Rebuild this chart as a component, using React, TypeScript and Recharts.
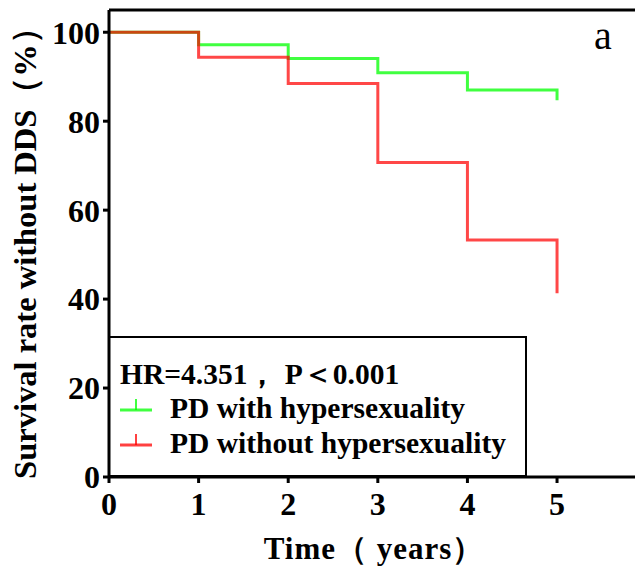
import React from "react";
import {
    LineChart, Line,
    XAxis, YAxis,
    ReferenceLine,
    Label
} from "recharts";

// Kaplan-Meier estimates (survival %, by year)
const years = [0, 1, 2, 3, 4, 5];
const withHyper = [100, 97.2, 94.1, 90.9, 87.0, 84.7];
const withoutHyper = [100, 94.4, 88.5, 70.7, 53.3, 41.3];
const yTicks = [0, 20, 40, 60, 80, 100];
const xTicks = [0, 1, 2, 3, 4, 5];

const FONT = '"Liberation Serif", "Times New Roman", serif';
const GREEN = "#00ff00";
const RED = "#ff0000";

const data = years.map((t, i) => ({ t, withH: withHyper[i], withoutH: withoutHyper[i] }));

const LegendIcon = ({ color }: { color: string }) => (
    <svg width={34} height={30} style={{ display: "block" }}>
        <line x1={1} y1={17} x2={33} y2={17} stroke={color} strokeOpacity={0.75} strokeWidth={3} />
        <line x1={17} y1={6} x2={17} y2={17} stroke={color} strokeOpacity={0.75} strokeWidth={2} />
    </svg>
);

export default function App() {
    const tickStyle = { fontSize: 32, fontWeight: "bold", fill: "#000", fontFamily: FONT };
    const legendText = { fontSize: 29.5, fontWeight: "bold" as const, whiteSpace: "nowrap" as const, lineHeight: "30px" };

    return (
        <div style={{
            position: "absolute", left: 0, top: 0, width: 635, height: 573,
            overflow: "hidden", background: "#fff", fontFamily: FONT
        }}>
            <LineChart
                width={635}
                height={573}
                data={data}
                margin={{ top: 10, right: 0, left: 0, bottom: 0 }}
            >
                <XAxis
                    dataKey="t"
                    type="number"
                    domain={[0, 5.87]}
                    ticks={xTicks}
                    allowDataOverflow
                    height={96}
                    stroke="#000"
                    strokeWidth={3}
                    tickSize={6}
                    tickMargin={9}
                    tick={tickStyle}
                >
                    <Label
                        content={() => (
                            <text x={374} y={559} textAnchor="middle" fontSize={31} fontWeight="bold"
                                  letterSpacing={1} fontFamily={FONT} fill="#000">
                                Time（ years）
                            </text>
                        )}
                    />
                </XAxis>
                <YAxis
                    type="number"
                    domain={[0, 105]}
                    ticks={yTicks}
                    width={109}
                    stroke="#000"
                    strokeWidth={3}
                    tickSize={6}
                    tickMargin={3}
                    tick={tickStyle}
                >
                    <Label
                        content={() => (
                            <text x={36} y={245} textAnchor="middle" fontSize={32.5} fontWeight="bold"
                                  fontFamily={FONT} fill="#000" transform="rotate(-90, 36, 245)">
                                Survival rate without DDS（%）
                            </text>
                        )}
                    />
                </YAxis>
                <ReferenceLine y={105} stroke="#000" strokeWidth={3} ifOverflow="visible" />
                <Line
                    type="stepAfter"
                    dataKey="withH"
                    stroke={GREEN}
                    strokeOpacity={0.75}
                    strokeWidth={3}
                    dot={false}
                    isAnimationActive={false}
                />
                <Line
                    type="stepAfter"
                    dataKey="withoutH"
                    stroke={RED}
                    strokeOpacity={0.72}
                    strokeWidth={3}
                    dot={false}
                    isAnimationActive={false}
                />
            </LineChart>

            <div style={{ position: "absolute", left: 594, top: 12, fontSize: 40, color: "#000" }}>a</div>

            {/* legend box */}
            <div style={{
                position: "absolute", left: 108, top: 336, width: 419, height: 141,
                border: "2px solid #000", boxSizing: "border-box", color: "#000"
            }}>
                <div style={{ ...legendText, position: "absolute", left: 10, top: 21 }}>
                    HR=4.351，&nbsp;P＜0.001
                </div>
                <div style={{ position: "absolute", left: 9, top: 55, display: "flex", alignItems: "center", gap: 17 }}>
                    <LegendIcon color={GREEN} />
                    <span style={legendText}>PD with hypersexuality</span>
                </div>
                <div style={{ position: "absolute", left: 9, top: 90, display: "flex", alignItems: "center", gap: 17 }}>
                    <LegendIcon color={RED} />
                    <span style={legendText}>PD without hypersexuality</span>
                </div>
            </div>
        </div>
    );
}
